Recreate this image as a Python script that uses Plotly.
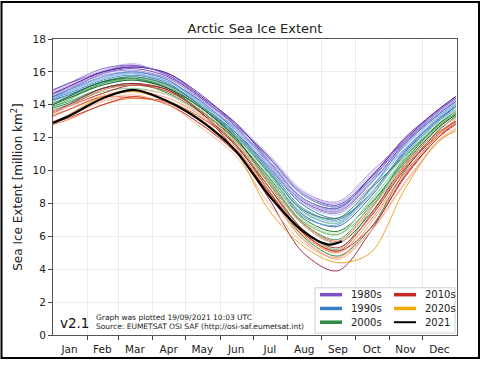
import plotly.graph_objects as go

# ---------------- data ----------------
MONTHS = ["Jan", "Feb", "Mar", "Apr", "May", "Jun", "Jul", "Aug", "Sep", "Oct", "Nov", "Dec"]
MONTH_STARTS = [32, 60, 91, 121, 152, 182, 213, 244, 274, 305, 335]
MONTH_MIDS = [16, 45.5, 75, 105.5, 136, 166.5, 197, 228, 258.5, 289, 319.5, 350]

# day-of-year sample points: Jan 1, mid-months, Dec 31
DAYS = [1, 15, 46, 74, 105, 135, 166, 196, 227, 258, 288, 319, 349, 365]

y1979 = [14.8, 15.2, 16.1, 16.4, 15.8, 14.5, 12.9, 11.0, 8.8, 8.0, 9.8, 11.9, 13.6, 14.4]
y1980 = [14.9, 15.3, 16.0, 16.3, 15.9, 14.6, 12.8, 10.8, 8.6, 7.9, 9.6, 12.0, 13.7, 14.5]
y1981 = [14.7, 15.0, 15.8, 16.0, 15.6, 14.3, 12.6, 10.5, 8.2, 7.6, 9.3, 11.6, 13.4, 14.2]
y1982 = [14.6, 15.1, 16.0, 16.4, 15.8, 14.4, 12.8, 10.8, 8.5, 7.8, 9.5, 11.8, 13.6, 14.4]
y1983 = [14.8, 15.2, 16.1, 16.5, 15.7, 14.2, 12.6, 10.7, 8.6, 8.0, 9.7, 11.7, 13.5, 14.3]
y1984 = [14.5, 14.8, 15.7, 16.0, 15.5, 14.1, 12.5, 10.3, 8.0, 7.4, 9.0, 11.3, 13.2, 14.0]
y1985 = [14.4, 14.9, 15.9, 16.2, 15.7, 14.4, 12.7, 10.4, 8.1, 7.5, 9.2, 11.7, 13.4, 14.2]
y1986 = [14.5, 15.0, 15.9, 16.1, 15.6, 14.3, 12.8, 10.9, 8.7, 8.1, 9.9, 11.8, 13.5, 14.3]
y1987 = [14.7, 15.1, 16.0, 16.3, 15.9, 14.5, 12.9, 10.6, 8.3, 7.7, 9.6, 11.9, 13.7, 14.5]
y1988 = [14.9, 15.3, 16.2, 16.4, 15.8, 14.4, 12.7, 10.5, 8.3, 7.7, 9.4, 11.8, 13.6, 14.4]
y1989 = [14.6, 15.0, 15.8, 15.9, 15.2, 14.0, 12.5, 10.5, 8.2, 7.5, 9.3, 11.5, 13.3, 14.1]

y1990 = [14.4, 14.9, 15.7, 16.0, 15.5, 14.1, 12.3, 10.0, 7.6, 6.9, 8.8, 11.4, 13.3, 14.1]
y1991 = [14.5, 14.8, 15.6, 15.9, 15.4, 14.2, 12.4, 10.2, 7.9, 7.1, 8.6, 11.2, 13.1, 13.9]
y1992 = [14.3, 14.8, 15.7, 15.9, 15.4, 14.1, 12.6, 10.6, 8.3, 7.6, 9.2, 11.5, 13.3, 14.1]
y1993 = [14.5, 14.9, 15.7, 16.0, 15.5, 14.0, 12.3, 10.0, 7.5, 6.8, 8.9, 11.6, 13.4, 14.2]
y1994 = [14.4, 14.8, 15.6, 15.9, 15.3, 14.0, 12.4, 10.4, 8.0, 7.3, 8.7, 11.2, 13.2, 14.0]
y1995 = [14.3, 14.6, 15.4, 15.6, 15.1, 13.8, 12.1, 9.8, 7.3, 6.6, 8.4, 11.1, 13.0, 13.9]
y1996 = [14.1, 14.5, 15.3, 15.6, 15.2, 14.0, 12.6, 10.6, 8.5, 7.8, 9.4, 11.3, 13.2, 14.0]
y1997 = [14.4, 14.7, 15.5, 15.8, 15.3, 13.9, 12.3, 10.1, 7.7, 7.0, 8.6, 11.2, 13.1, 13.9]
y1998 = [14.4, 14.8, 15.7, 15.9, 15.4, 14.0, 12.1, 9.9, 7.6, 6.9, 8.5, 11.0, 13.0, 13.8]
y1999 = [14.2, 14.6, 15.4, 15.7, 15.2, 13.9, 12.1, 9.8, 7.2, 6.7, 8.6, 11.0, 13.0, 13.7]

y2000 = [14.1, 14.5, 15.3, 15.6, 15.1, 13.7, 12.0, 9.8, 7.4, 6.8, 8.6, 10.9, 12.9, 13.7]
y2001 = [14.0, 14.5, 15.4, 15.7, 15.2, 13.9, 12.2, 9.9, 7.6, 7.1, 8.9, 10.9, 12.8, 13.6]
y2002 = [14.1, 14.4, 15.3, 15.5, 15.0, 13.6, 11.9, 9.5, 6.9, 6.1, 8.2, 10.7, 12.7, 13.5]
y2003 = [14.0, 14.5, 15.4, 15.6, 15.0, 13.6, 11.9, 9.6, 7.1, 6.3, 8.0, 10.6, 12.8, 13.6]
y2004 = [14.0, 14.4, 15.2, 15.5, 14.9, 13.6, 12.0, 9.7, 7.0, 6.2, 8.1, 10.9, 12.9, 13.6]
y2005 = [13.9, 14.2, 15.0, 15.2, 14.8, 13.6, 11.8, 9.4, 6.8, 5.8, 7.9, 10.5, 12.6, 13.4]
y2006 = [13.7, 14.0, 14.8, 15.0, 14.6, 13.4, 11.7, 9.2, 6.9, 6.1, 7.8, 10.4, 12.4, 13.3]
y2007 = [13.8, 14.1, 15.0, 15.3, 14.7, 13.5, 11.6, 8.8, 6.0, 4.8, 6.5, 10.0, 12.4, 13.3]
y2008 = [13.9, 14.3, 15.3, 15.6, 15.0, 13.8, 11.9, 9.2, 6.4, 5.2, 7.6, 10.8, 12.7, 13.5]
y2009 = [14.0, 14.4, 15.2, 15.5, 15.0, 13.8, 12.0, 9.3, 6.7, 5.6, 7.4, 10.4, 12.6, 13.4]

y2010 = [13.6, 13.9, 14.7, 15.2, 14.9, 13.5, 11.5, 9.0, 6.4, 5.3, 7.2, 10.1, 12.2, 13.0]
y2011 = [13.4, 13.7, 14.5, 14.8, 14.4, 13.3, 11.4, 8.6, 5.8, 4.7, 6.8, 9.8, 12.2, 13.1]
y2012 = [13.6, 14.0, 15.0, 15.3, 14.9, 13.5, 11.2, 8.3, 5.0, 3.9, 6.3, 9.7, 12.0, 12.9]
y2013 = [13.5, 13.9, 14.9, 15.2, 14.8, 13.6, 11.8, 9.3, 6.8, 5.7, 7.7, 10.3, 12.5, 13.2]
y2014 = [13.6, 13.9, 14.6, 14.9, 14.6, 13.4, 11.8, 9.3, 6.7, 5.6, 7.6, 10.4, 12.5, 13.2]
y2015 = [13.3, 13.7, 14.5, 14.4, 14.2, 13.2, 11.6, 9.0, 6.2, 5.1, 7.3, 10.2, 12.3, 13.0]
y2016 = [13.0, 13.3, 14.2, 14.5, 14.0, 12.8, 11.2, 8.6, 5.9, 4.6, 6.3, 9.3, 11.7, 12.5]
y2017 = [12.8, 13.1, 14.0, 14.4, 14.1, 13.0, 11.3, 8.8, 6.1, 5.0, 7.0, 9.9, 12.1, 12.9]
y2018 = [12.9, 13.2, 14.0, 14.5, 14.0, 12.8, 11.1, 8.7, 6.2, 5.1, 6.5, 9.6, 12.0, 12.8]
y2019 = [13.0, 13.3, 14.3, 14.6, 14.0, 12.6, 10.9, 8.0, 5.6, 4.7, 6.3, 9.2, 11.8, 12.6]

y2020 = [12.9, 13.4, 14.5, 14.8, 14.2, 13.1, 11.2, 7.6, 5.4, 4.4, 5.0, 8.9, 11.8, 12.4]

DAYS_2021 = [1, 15, 46, 74, 105, 135, 166, 196, 227, 250, 262]
y2021 = [12.9, 13.3, 14.4, 14.9, 14.2, 13.0, 11.2, 8.5, 6.3, 5.5, 5.7]

DECADES = {
    "1980s": [y1979, y1980, y1981, y1982, y1983, y1984, y1985, y1986, y1987, y1988, y1989],
    "1990s": [y1990, y1991, y1992, y1993, y1994, y1995, y1996, y1997, y1998, y1999],
    "2000s": [y2000, y2001, y2002, y2003, y2004, y2005, y2006, y2007, y2008, y2009],
    "2010s": [y2010, y2011, y2012, y2013, y2014, y2015, y2016, y2017, y2018, y2019],
    "2020s": [y2020],
}
LEGEND_NAMES = ["1980s", "1990s", "2000s", "2010s", "2020s", "2021"]

# ---------------- styles ----------------
PALETTE = {
    "1980s": ["#d8ccef", "#5b2fa8", "#b9a2e3", "#7d55c7", "#c7b5ea", "#9a79d5",
              "#6a3fb8", "#a88dde", "#4e2699", "#8b66ce", "#bda8e6"],
    "1990s": ["#a9cbea", "#2c70b5", "#8dbbe4", "#4b8ecc", "#bcd7ef", "#1f5fa3",
              "#76acdd", "#3a7fc2", "#9dc4e8", "#609dd5"],
    "2000s": ["#9dd69c", "#2e8c45", "#68bc70", "#176a32", "#b7e1b5", "#3e9d51",
              "#82c985", "#217b3b", "#52ad5f", "#0f5a2a"],
    "2010s": ["#b5161c", "#f4905e", "#9a1d3a", "#e8603c", "#fac0a6", "#d9472b",
              "#f6a57a", "#f07a3a", "#c62a22", "#f8b08e"],
    "2020s": ["#f39c12"],
}
LEGEND_COLORS = {"1980s": "#7b52c9", "1990s": "#3a7fc2", "2000s": "#2e8c45",
                 "2010s": "#c62a22", "2020s": "#f5a800", "2021": "#000000"}

W, H = 483, 367
L, R, T, B = 53, 26, 39, 27
PW, PH = W - L - R, H - T - B


def px(xp):
    return (xp - L) / PW


def py(yp):
    return (H - B - yp) / PH


fig = go.Figure()

for dec, series in DECADES.items():
    for i, vals in enumerate(series):
        fig.add_trace(go.Scatter(
            x=DAYS, y=vals, mode="lines", name=f"{dec}",
            line=dict(color=PALETTE[dec][i], width=1.0, shape="spline", smoothing=0.9),
            opacity=0.9, showlegend=False, hoverinfo="skip"))

fig.add_trace(go.Scatter(
    x=DAYS_2021, y=y2021, mode="lines", name="2021",
    line=dict(color="black", width=2.2, shape="spline", smoothing=0.9),
    showlegend=False, hoverinfo="skip"))

# ---------------- legend box (two columns) ----------------
shapes = [
    dict(type="rect", xref="paper", yref="paper",
         x0=px(315), x1=px(455), y0=py(338), y1=py(292),
         line=dict(color="#cfcfcf", width=1), fillcolor="white", layer="above"),
]
annotations = []
col_x = [(320, 342, 349), (394, 416, 423)]
row_y = [299, 313, 327]
for k, name in enumerate(LEGEND_NAMES):
    c, r = divmod(k, 3)
    x0, x1, xt = col_x[c]
    yy = row_y[r]
    shapes.append(dict(type="line", xref="paper", yref="paper",
                       x0=px(x0), x1=px(x1), y0=py(yy), y1=py(yy), layer="above",
                       line=dict(color=LEGEND_COLORS[name], width=2 if name == "2021" else 3.5)))
    annotations.append(dict(text=name, xref="paper", yref="paper", x=px(xt), y=py(yy),
                            xanchor="left", yanchor="middle", showarrow=False,
                            font=dict(size=10, color="#222")))

shapes.append(dict(type="rect", xref="paper", yref="paper",
                   x0=px(1.5), x1=px(479), y0=py(363.5), y1=py(1.5),
                   line=dict(color="black", width=2), fillcolor="rgba(0,0,0,0)", layer="above"))

annotations += [
    dict(text="v2.1", xref="paper", yref="paper", x=px(58), y=py(328),
         xanchor="left", yanchor="middle", showarrow=False,
         font=dict(size=13.5, color="#111")),
    dict(text="Graph was plotted 19/09/2021 10:03 UTC", xref="paper", yref="paper",
         x=px(94), y=py(322), xanchor="left", yanchor="middle", showarrow=False,
         font=dict(size=7.5, color="#222")),
    dict(text="Source: EUMETSAT OSI SAF (http://osi-saf.eumetsat.int)", xref="paper",
         yref="paper", x=px(94), y=py(331), xanchor="left", yanchor="middle",
         showarrow=False, font=dict(size=7.5, color="#222")),
]

fig.update_layout(
    width=W, height=H,
    margin=dict(l=L, r=R, t=T, b=B),
    paper_bgcolor="white", plot_bgcolor="white",
    showlegend=False,
    font=dict(family="DejaVu Sans", size=10.5, color="#222"),
    title=dict(text="Arctic Sea Ice Extent", x=(L + PW / 2) / W, xanchor="center",
               y=1 - 28 / H, yanchor="middle", yref="container",
               font=dict(size=13, color="#222")),
    xaxis=dict(range=[1, 366], tickmode="array", tickvals=MONTH_MIDS, ticktext=MONTHS,
               ticks="", showgrid=False, zeroline=False, ticklabelstandoff=4,
               showline=True, linecolor="#555", linewidth=1, mirror=True,
               tickfont=dict(size=10.5, color="#222"),
               minor=dict(tickmode="array", tickvals=MONTH_STARTS, ticks="outside",
                          ticklen=4, tickcolor="#444", showgrid=True,
                          gridcolor="#ececec", gridwidth=1)),
    yaxis=dict(range=[0, 18], tickmode="linear", tick0=0, dtick=2, ticks="outside",
               ticklen=4, tickcolor="#444", showgrid=True, gridcolor="#ececec",
               zeroline=False, showline=True, linecolor="#555", linewidth=1, mirror=True,
               tickfont=dict(size=10.5, color="#222"),
               title=dict(text="Sea Ice Extent [million km<sup>2</sup>]",
                          font=dict(size=12, color="#222"), standoff=7)),
    shapes=shapes,
    annotations=annotations,
)

fig.write_html("out.html")
